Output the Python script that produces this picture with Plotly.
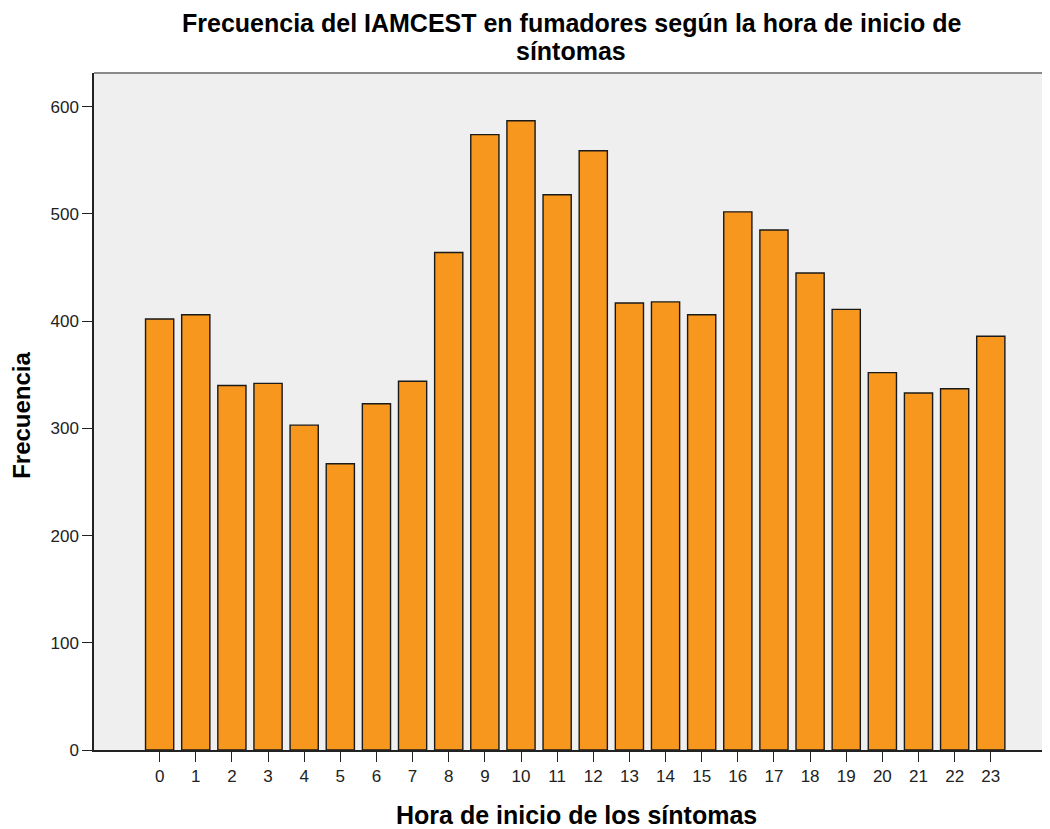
import plotly.graph_objects as go

horas = [str(h) for h in range(24)]
frecuencia = [402, 406, 340, 342, 303, 267, 323, 344, 464, 574, 587, 518,
              559, 417, 418, 406, 502, 485, 445, 411, 352, 333, 337, 386]
y_ticks = [0, 100, 200, 300, 400, 500, 600]
titulo = ["Frecuencia del IAMCEST en fumadores según la hora de inicio de", "síntomas"]

bar_color = "#F7971D"
font_family = "Liberation Sans, Arial, sans-serif"

fig = go.Figure()
fig.add_trace(go.Bar(
    x=list(range(24)),
    y=frecuencia,
    width=0.78,
    marker=dict(color=bar_color, line=dict(color="#1a1a1a", width=1.4)),
))

# page body has an 8px margin, so margins are shifted by 8px
fig.update_layout(
    width=1050,
    height=829,
    margin=dict(l=86, r=0, t=65, b=87),
    plot_bgcolor="#EFEFEF",
    paper_bgcolor="white",
    showlegend=False,
    font=dict(family=font_family, color="#222222", size=17),
)

fig.update_xaxes(
    range=[-1.816, 24.86],
    tickmode="array",
    tickvals=list(range(24)),
    ticktext=horas,
    ticks="outside",
    ticklen=10,
    tickcolor="#222222",
    showline=True,
    linecolor="#222222",
    linewidth=1.5,
    showgrid=False,
    zeroline=False,
    tickfont=dict(size=17),
)

fig.update_yaxes(
    range=[0, 631.5],
    tickmode="array",
    tickvals=y_ticks,
    ticks="outside",
    ticklen=10,
    tickcolor="#222222",
    showline=True,
    linecolor="#222222",
    linewidth=1.5,
    showgrid=False,
    zeroline=False,
    tickfont=dict(size=17),
)

# title: two lines placed separately to keep the tight line spacing
for linea, y in zip(titulo, [1.0739, 1.0325]):
    fig.add_annotation(
        text=f"<b>{linea}</b>",
        xref="paper", yref="paper", x=0.495, y=y, xanchor="center", yanchor="middle",
        showarrow=False, font=dict(size=25, color="black"),
    )

fig.add_annotation(
    text="<b>Hora de inicio de los síntomas</b>",
    xref="paper", yref="paper", x=0.5, y=-0.096, xanchor="center", yanchor="middle",
    showarrow=False, font=dict(size=25, color="black"),
)
fig.add_annotation(
    text="<b>Frecuencia</b>",
    xref="paper", yref="paper", x=-0.0747, y=0.495, xanchor="center", yanchor="middle",
    textangle=-90, showarrow=False, font=dict(size=24, color="black"),
)

# top frame line in grey
fig.add_shape(type="line", xref="paper", yref="paper", x0=0, x1=1, y0=1, y1=1,
              line=dict(color="#8a8a8a", width=2))

fig.write_html("out.html")
